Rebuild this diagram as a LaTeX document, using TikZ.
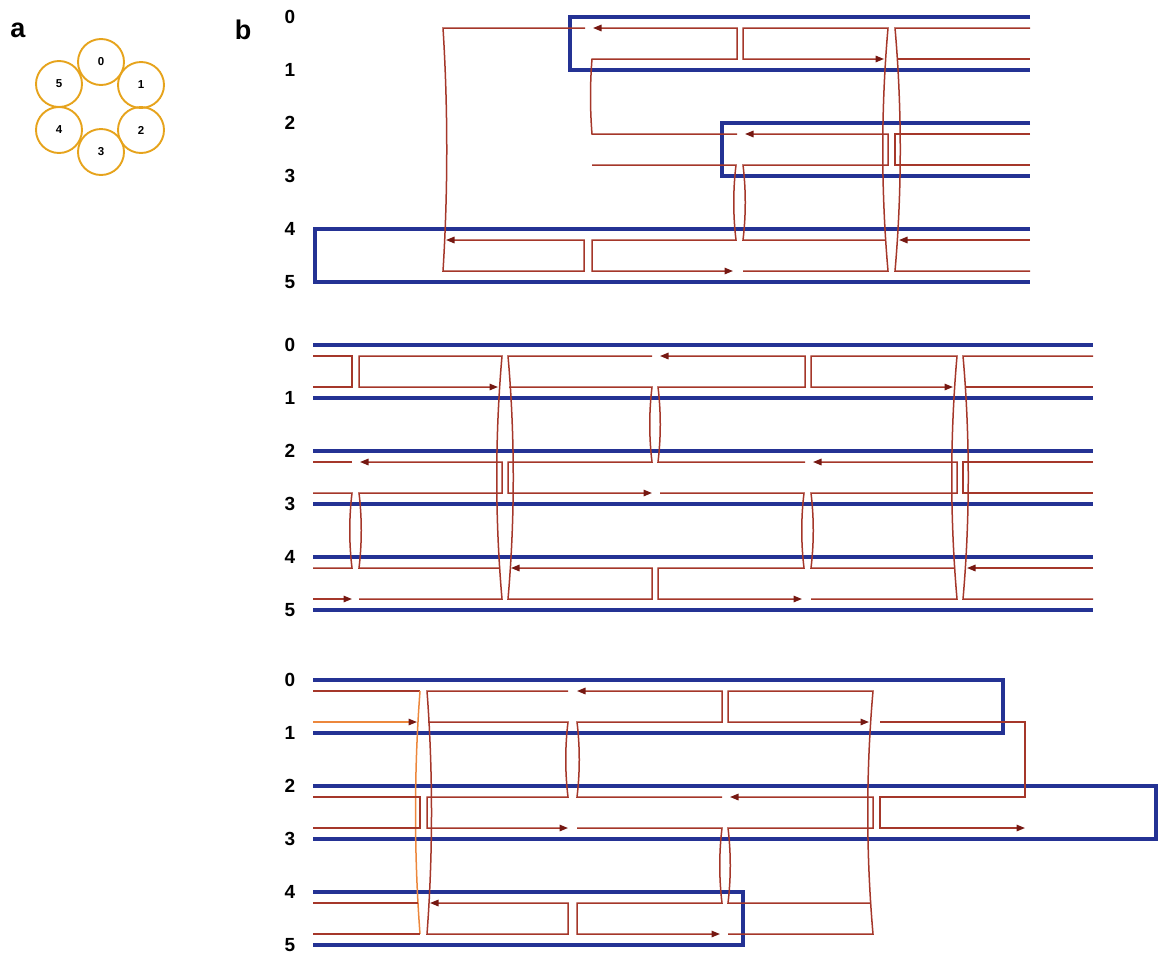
\documentclass[tikz,border=0pt]{standalone}
\usepackage{fontspec}
\setmainfont{Liberation Sans}
\usetikzlibrary{arrows.meta}

\definecolor{scafblue}{RGB}{36,50,148}
\definecolor{stapred}{RGB}{165,55,42}
\definecolor{tipred}{RGB}{118,24,18}
\definecolor{ringgold}{RGB}{230,163,28}
\definecolor{stapor}{RGB}{236,135,60}

% staple row offsets inside a panel (scaffold rows at 0,53,...,265)
\def\RA{11}\def\RB{42}\def\RC{117}\def\RD{148}\def\RE{223}\def\RF{254}

\begin{document}
\begin{tikzpicture}[x=1pt,y=-1pt,
  scaf/.style={draw=scafblue,line width=3.1pt,line join=miter},
  stap/.style={draw=stapred,line width=1.5pt},
  stapo/.style={draw=stapor,line width=1.5pt},
  tip/.style={-{Triangle[length=8.5pt,width=6.5pt,color=tipred]}},
  rowlab/.style={font=\bfseries\fontsize{19}{19}\selectfont,inner sep=0pt},
  panlab/.style={font=\bfseries\fontsize{27}{27}\selectfont,inner sep=0pt},
  ring/.style={circle,draw=ringgold,line width=1.9pt,minimum size=46pt,
    inner sep=0pt,font=\bfseries\fontsize{11.5}{11.5}\selectfont},
]
\useasboundingbox (0,0) rectangle (1158,956);

% ---- panel a: six-helix ring ----
\node[panlab] (la) at (18,30) {a};
\node[ring] (c0) at (101,62) {0};
\node[ring] (c1) at (141,85) {1};
\node[ring] (c2) at (141,130) {2};
\node[ring] (c3) at (101,152) {3};
\node[ring] (c4) at (59,130) {4};
\node[ring] (c5) at (59,84) {5};

\node[panlab] (lb) at (243,30) {b};

% ---- row labels ----
\foreach \p/\base in {t/17,m/345,u/680}{
  \foreach \i/\off in {0/0,1/53,2/106,3/159,4/212,5/265}{
    \node[rowlab] (\p\i) at (290,\base+\off) {\i};
  }
}

% ---- upper panel ----
\begin{scope}[shift={(0,17)}]
  \draw[scaf] (1030,0) -- (570,0) -- (570,53) -- (1030,53);
  \draw[scaf] (1030,106) -- (722,106) -- (722,159) -- (1030,159);
  \draw[scaf] (1030,212) -- (315,212) -- (315,265) -- (1030,265);

  \draw[stap,tip] (737,\RC) -- (592,\RC) .. controls +(-2,-25) and +(-2,25) .. (592,\RB)
     -- (737,\RB) -- (737,\RA) -- (593,\RA);
  \draw[stap,tip] (585,\RA) -- (443,\RA) .. controls +(5,80) and +(5,-80) .. (443,\RF)
     -- (584,\RF) -- (584,\RE) -- (446,\RE);
  \draw[stap,tip] (592,\RD) -- (736,\RD) .. controls +(-3,25) and +(-3,-25) .. (736,\RE)
     -- (592,\RE) -- (592,\RF) -- (733,\RF);
  \draw[stap,tip] (743,\RF) -- (888,\RF) .. controls +(-7,-80) and +(-7,80) .. (888,\RA)
     -- (743,\RA) -- (743,\RB) -- (884,\RB);
  \draw[stap,tip] (885,\RE) -- (743,\RE) .. controls +(3,-25) and +(3,25) .. (743,\RD)
     -- (888,\RD) -- (888,\RC) -- (745,\RC);
  \draw[stap] (1030,\RA) -- (895,\RA) .. controls +(7,80) and +(7,-80) .. (895,\RF) -- (1030,\RF);
  \draw[stap] (898,\RB) -- (1030,\RB);
  \draw[stap] (1030,\RC) -- (895,\RC) -- (895,\RD) -- (1030,\RD);
  \draw[stap,tip] (1030,\RE) -- (899,\RE);
\end{scope}

% ---- middle panel ----
\begin{scope}[shift={(0,345)}]
  \foreach \y in {0,53,106,159,212,265}{
    \draw[scaf] (313,\y) -- (1093,\y);
  }
  \draw[stap] (313,\RA) -- (352,\RA) -- (352,\RB) -- (313,\RB);
  \draw[stap] (352,\RC) -- (313,\RC);
  \draw[stap] (313,\RD) -- (352,\RD) .. controls +(-3,25) and +(-3,-25) .. (352,\RE) -- (313,\RE);
  \draw[stap,tip] (313,\RF) -- (352,\RF);

  \draw[stap,tip] (359,\RF) -- (502,\RF) .. controls +(-7,-80) and +(-7,80) .. (502,\RA)
     -- (359,\RA) -- (359,\RB) -- (498,\RB);
  \draw[stap,tip] (500,\RE) -- (359,\RE) .. controls +(3,-25) and +(3,25) .. (359,\RD)
     -- (502,\RD) -- (502,\RC) -- (360,\RC);
  \draw[stap,tip] (652,\RA) -- (508,\RA) .. controls +(7,80) and +(7,-80) .. (508,\RF)
     -- (652,\RF) -- (652,\RE) -- (511,\RE);
  \draw[stap,tip] (509,\RB) -- (652,\RB) .. controls +(-3,25) and +(-3,-25) .. (652,\RC)
     -- (508,\RC) -- (508,\RD) -- (652,\RD);

  \draw[stap,tip] (805,\RC) -- (658,\RC) .. controls +(3,-25) and +(3,25) .. (658,\RB)
     -- (805,\RB) -- (805,\RA) -- (660,\RA);
  \draw[stap,tip] (660,\RD) -- (804,\RD) .. controls +(-3,25) and +(-3,-25) .. (804,\RE)
     -- (658,\RE) -- (658,\RF) -- (802,\RF);

  \draw[stap,tip] (811,\RF) -- (957,\RF) .. controls +(-7,-80) and +(-7,80) .. (957,\RA)
     -- (811,\RA) -- (811,\RB) -- (953,\RB);
  \draw[stap,tip] (955,\RE) -- (811,\RE) .. controls +(3,-25) and +(3,25) .. (811,\RD)
     -- (957,\RD) -- (957,\RC) -- (813,\RC);
  \draw[stap] (1093,\RA) -- (963,\RA) .. controls +(7,80) and +(7,-80) .. (963,\RF) -- (1093,\RF);
  \draw[stap] (965,\RB) -- (1093,\RB);
  \draw[stap] (1093,\RC) -- (963,\RC) -- (963,\RD) -- (1093,\RD);
  \draw[stap,tip] (1093,\RE) -- (967,\RE);
\end{scope}

% ---- lower panel ----
\begin{scope}[shift={(0,680)}]
  \draw[scaf] (313,0) -- (1003,0) -- (1003,53) -- (313,53);
  \draw[scaf] (313,106) -- (1156,106) -- (1156,159) -- (313,159);
  \draw[scaf] (313,212) -- (743,212) -- (743,265) -- (313,265);

  \draw[stap] (313,\RA) -- (420,\RA);
  \draw[stapo] (420,\RA) .. controls +(-6,80) and +(-6,-80) .. (420,\RF);
  \draw[stap] (420,\RF) -- (313,\RF);
  \draw[stapo,tip] (313,\RB) -- (417,\RB);
  \draw[stap] (313,\RC) -- (420,\RC) -- (420,\RD) -- (313,\RD);
  \draw[stap] (313,\RE) -- (418,\RE);

  \draw[stap,tip] (568,\RA) -- (427,\RA) .. controls +(6,80) and +(6,-80) .. (427,\RF)
     -- (568,\RF) -- (568,\RE) -- (430,\RE);
  \draw[stap,tip] (428,\RB) -- (568,\RB) .. controls +(-3,25) and +(-3,-25) .. (568,\RC)
     -- (427,\RC) -- (427,\RD) -- (568,\RD);

  \draw[stap,tip] (722,\RC) -- (577,\RC) .. controls +(3,-25) and +(3,25) .. (577,\RB)
     -- (722,\RB) -- (722,\RA) -- (577,\RA);
  \draw[stap,tip] (577,\RD) -- (722,\RD) .. controls +(-3,25) and +(-3,-25) .. (722,\RE)
     -- (577,\RE) -- (577,\RF) -- (720,\RF);

  \draw[stap,tip] (728,\RF) -- (873,\RF) .. controls +(-7,-80) and +(-7,80) .. (873,\RA)
     -- (728,\RA) -- (728,\RB) -- (869,\RB);
  \draw[stap,tip] (871,\RE) -- (728,\RE) .. controls +(3,-25) and +(3,25) .. (728,\RD)
     -- (873,\RD) -- (873,\RC) -- (730,\RC);
  \draw[stap,tip] (880,\RB) -- (1025,\RB) -- (1025,\RC) -- (880,\RC) -- (880,\RD) -- (1025,\RD);
\end{scope}
\end{tikzpicture}
\end{document}
